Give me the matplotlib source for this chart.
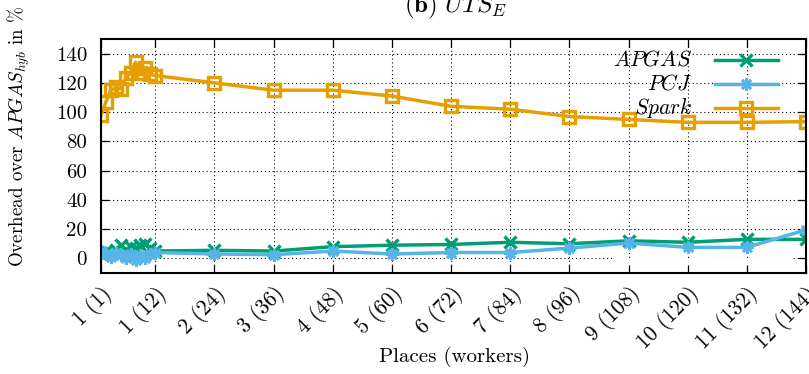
import matplotlib
matplotlib.use("Agg")
import matplotlib.pyplot as plt
from matplotlib.lines import Line2D
from matplotlib.patches import Rectangle

# Workers (x axis) and overhead values in % per implementation
workers = [1, 2, 3, 4, 5, 6, 7, 8, 9, 10, 11, 12,
           24, 36, 48, 60, 72, 84, 96, 108, 120, 132, 144]
apgas = [3, 5, 4, 6, 9, 6, 8, 7, 9, 10, 7, 5,
         5.5, 5, 8, 9, 9.5, 11, 10, 12, 11, 13, 13]
pcj = [5, 3, 1, 4, 2, 0, 3, -1, 2, 0, 3, 4,
       3, 2.5, 5, 3, 4, 4, 7, 10.5, 7.5, 7.5, 19.5]
spark = [98, 107, 115, 117, 116, 123, 127, 134, 127, 130, 126, 125,
         120, 115, 115, 111, 104, 102, 97, 95, 93, 93, 93.5]

xtick_pos = [1, 12, 24, 36, 48, 60, 72, 84, 96, 108, 120, 132, 144]
xtick_labels = ["1 (1)", "1 (12)", "2 (24)", "3 (36)", "4 (48)", "5 (60)",
                "6 (72)", "7 (84)", "8 (96)", "9 (108)", "10 (120)",
                "11 (132)", "12 (144)"]
ytick_pos = [0, 20, 40, 60, 80, 100, 120, 140]

series_names = ["APGAS", "PCJ", "Spark"]
colors = ["#009E73", "#56B4E9", "#E69F00"]
markers = ["x", (8, 2, 0), "s"]
marker_widths = [2.4, 1.9, 2.4]

plt.rcParams["font.family"] = "cmr10"
plt.rcParams["mathtext.fontset"] = "cm"
plt.rcParams["axes.formatter.use_mathtext"] = True

W, H = 809, 374
fig = plt.figure(figsize=(W / 100, H / 100), dpi=100)
ax = fig.add_axes([101 / W, 1 - 273 / H, (806 - 101) / W, (273 - 39) / H])

ax.set_xlim(1, 144)
ax.set_ylim(-10, 150)

# dotted grid
for xv in xtick_pos:
    ax.axvline(xv, color="black", lw=0.8, ls=(0, (1, 2.5)), zorder=0.5)
for yv in ytick_pos:
    ax.axhline(yv, color="black", lw=0.8, ls=(0, (1, 2.5)), zorder=0.5)

series = [apgas, pcj, spark]
for vals, c, m, mw in zip(series, colors, markers, marker_widths):
    kw = dict(color=c, lw=2.5, marker=m, ms=9, mew=mw, zorder=3)
    if m == "s":
        kw["mfc"] = "none"
    ax.plot(workers, vals, **kw)

ax.set_xticks(xtick_pos)
ax.set_xticklabels(xtick_labels, rotation=45, ha="right", va="top",
                   rotation_mode="anchor", fontsize=15.5)
ax.set_yticks(ytick_pos)
ax.set_yticklabels([str(v) for v in ytick_pos], fontsize=15)
ax.tick_params(axis="both", direction="in", length=6, width=0.9,
               top=True, right=True)
ax.tick_params(axis="x", pad=7)
ax.tick_params(axis="y", pad=10)
for sp in ax.spines.values():
    sp.set_linewidth(1.5)
    sp.set_zorder(4)

# key box with right-aligned labels
ax.add_patch(Rectangle((613, 39), 180, 77, transform=None,
                       facecolor="white", edgecolor="none", zorder=1))
row_y = [60, 84, 108]
for name, c, m, mw, yy in zip(series_names, colors, markers,
                              marker_widths, row_y):
    yf = 1 - yy / H
    fig.text(692 / W, yf, "$" + name + "$", ha="right", va="center",
             fontsize=15.5, zorder=6)
    fig.add_artist(Line2D([715 / W, 778 / W], [yf, yf], color=c, lw=2.5))
    mk = dict(color=c, marker=m, ms=9, mew=mw, ls="none")
    if m == "s":
        mk["mfc"] = "none"
    fig.add_artist(Line2D([746 / W], [yf], **mk))

fig.text(19 / W, 1 - 136 / H, r"Overhead over $APGAS_{hyb}$ in %",
         rotation=90, ha="center", va="center", fontsize=13.7)
fig.text(454 / W, 1 - 357 / H, "Places (workers)", ha="center",
         va="center", fontsize=15)
fig.text(455 / W, 1 - 12 / H, r"$\mathbf{(b)}\ UTS_E$", ha="center",
         va="baseline", fontsize=18)

fig.savefig("out.png", dpi=100)
